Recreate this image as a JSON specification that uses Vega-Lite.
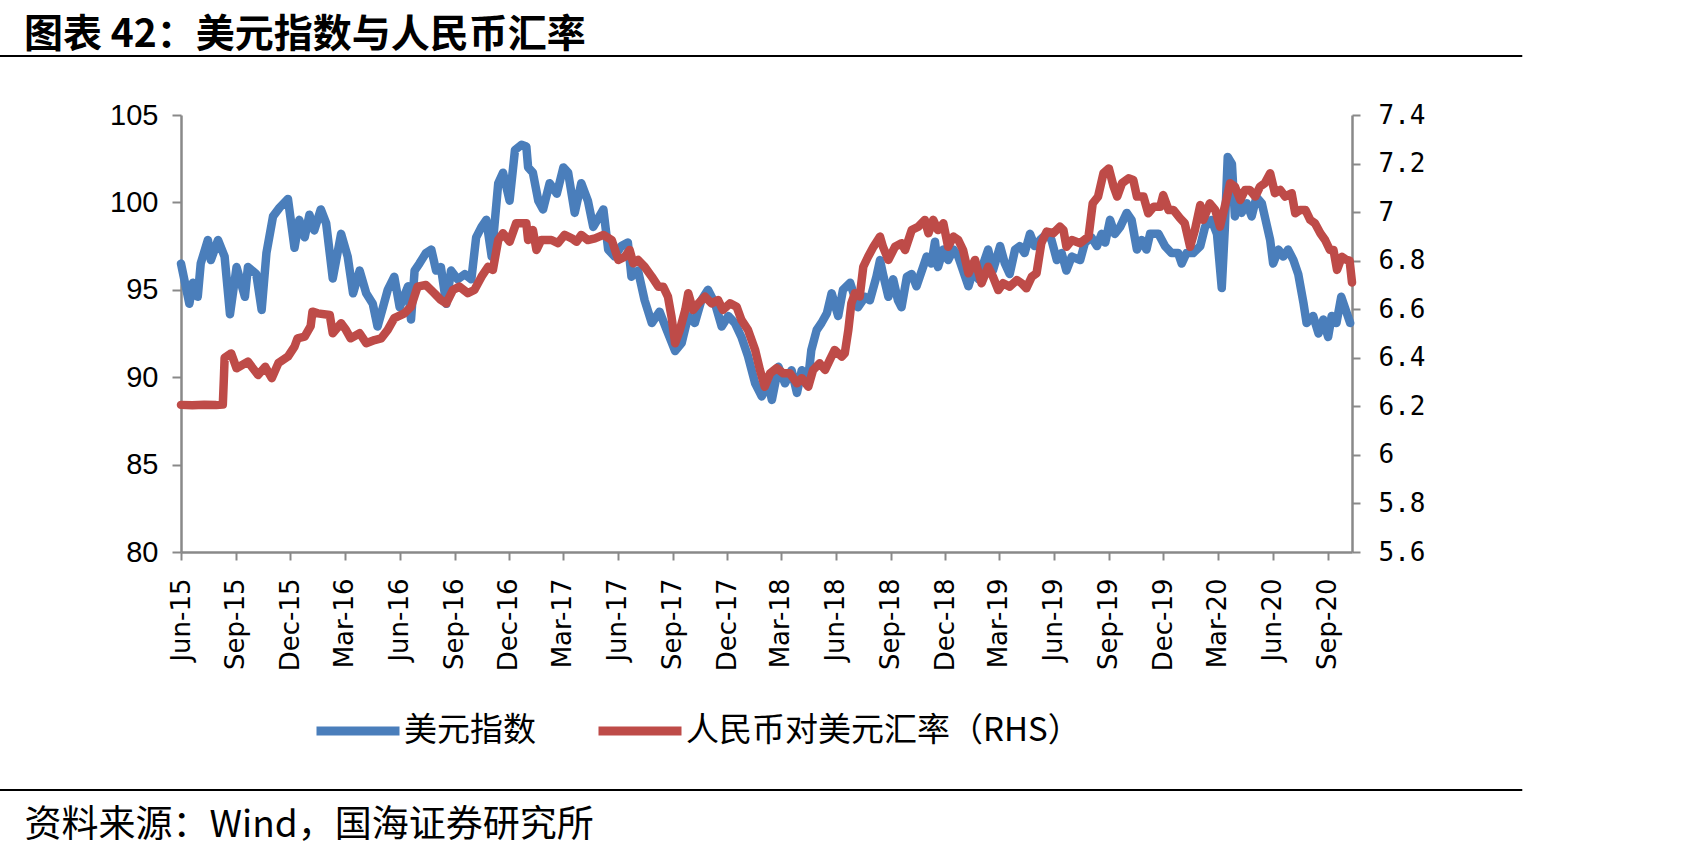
{
  "$schema": "https://vega.github.io/schema/vega-lite/v6.json",
  "width": 1171,
  "height": 437,
  "autosize": {"type": "none"},
  "padding": {"left": 181, "top": 115, "right": 338, "bottom": 304},
  "background": "white",
  "config": {
    "view": {"stroke": null},
    "axis": {"grid": false, "domainColor": "#898989", "tickColor": "#898989", "domainWidth": 2.5, "tickWidth": 2, "labelColor": "#000000"}
  },
  "title": {
    "text": "图表 42：美元指数与人民币汇率",
    "font": "Noto Sans CJK SC",
    "fontSize": 39,
    "fontWeight": "bold",
    "color": "#000000",
    "anchor": "start",
    "frame": "group",
    "dx": -157,
    "offset": 0
  },
  "datasets": {
    "dxy": [
      {"date":"2015-06-01","v":96.5},{"date":"2015-06-15","v":94.2},{"date":"2015-06-21","v":95.4},{"date":"2015-06-29","v":94.6},
      {"date":"2015-07-04","v":96.5},{"date":"2015-07-16","v":97.85},{"date":"2015-07-21","v":96.7},{"date":"2015-08-02","v":97.85},
      {"date":"2015-08-13","v":96.9},{"date":"2015-08-22","v":93.6},{"date":"2015-09-02","v":96.3},{"date":"2015-09-16","v":94.6},
      {"date":"2015-09-21","v":96.3},{"date":"2015-10-05","v":95.9},{"date":"2015-10-14","v":93.85},{"date":"2015-10-22","v":97.1},
      {"date":"2015-11-02","v":99.2},{"date":"2015-11-13","v":99.7},{"date":"2015-11-27","v":100.2},{"date":"2015-12-08","v":97.4},
      {"date":"2015-12-16","v":99.0},{"date":"2015-12-25","v":98.0},{"date":"2016-01-02","v":99.3},{"date":"2016-01-10","v":98.4},
      {"date":"2016-01-21","v":99.6},{"date":"2016-01-30","v":98.8},{"date":"2016-02-10","v":95.65},{"date":"2016-02-24","v":98.2},
      {"date":"2016-03-06","v":96.9},{"date":"2016-03-15","v":94.8},{"date":"2016-03-26","v":96.1},{"date":"2016-04-06","v":94.8},
      {"date":"2016-04-17","v":94.2},{"date":"2016-04-25","v":92.9},{"date":"2016-05-04","v":94.0},{"date":"2016-05-12","v":95.0},
      {"date":"2016-05-23","v":95.75},{"date":"2016-06-01","v":94.0},{"date":"2016-06-15","v":95.2},{"date":"2016-06-20","v":93.3},
      {"date":"2016-06-26","v":96.1},{"date":"2016-07-04","v":96.5},{"date":"2016-07-15","v":97.1},{"date":"2016-07-24","v":97.3},
      {"date":"2016-08-01","v":96.1},{"date":"2016-08-09","v":96.3},{"date":"2016-08-18","v":94.2},{"date":"2016-08-26","v":96.1},
      {"date":"2016-09-06","v":95.6},{"date":"2016-09-18","v":95.9},{"date":"2016-09-29","v":95.6},{"date":"2016-10-07","v":98.0},
      {"date":"2016-10-16","v":98.6},{"date":"2016-10-24","v":99.0},{"date":"2016-11-02","v":96.9},{"date":"2016-11-13","v":101.1},
      {"date":"2016-11-21","v":101.7},{"date":"2016-12-02","v":100.1},{"date":"2016-12-11","v":103.0},{"date":"2016-12-22","v":103.3},
      {"date":"2016-12-30","v":103.2},{"date":"2017-01-02","v":102.0},{"date":"2017-01-10","v":101.7},{"date":"2017-01-19","v":100.1},
      {"date":"2017-01-27","v":99.6},{"date":"2017-02-07","v":101.1},{"date":"2017-02-19","v":100.5},{"date":"2017-03-02","v":102.0},
      {"date":"2017-03-10","v":101.7},{"date":"2017-03-21","v":99.4},{"date":"2017-04-01","v":101.1},{"date":"2017-04-12","v":100.1},
      {"date":"2017-04-21","v":98.6},{"date":"2017-05-08","v":99.6},{"date":"2017-05-16","v":97.3},{"date":"2017-05-27","v":96.9},
      {"date":"2017-06-07","v":97.5},{"date":"2017-06-18","v":97.7},{"date":"2017-06-24","v":95.75},{"date":"2017-07-05","v":96.1},
      {"date":"2017-07-16","v":94.4},{"date":"2017-07-28","v":93.1},{"date":"2017-08-10","v":93.75},{"date":"2017-08-22","v":92.7},
      {"date":"2017-09-05","v":91.5},{"date":"2017-09-16","v":91.95},{"date":"2017-09-27","v":93.5},{"date":"2017-10-08","v":93.1},
      {"date":"2017-10-19","v":94.4},{"date":"2017-10-30","v":95.0},{"date":"2017-11-11","v":94.2},{"date":"2017-11-22","v":92.9},
      {"date":"2017-12-03","v":93.5},{"date":"2017-12-14","v":93.1},{"date":"2017-12-25","v":92.3},{"date":"2018-01-05","v":91.2},
      {"date":"2018-01-17","v":89.65},{"date":"2018-01-28","v":88.9},{"date":"2018-02-08","v":89.65},{"date":"2018-02-14","v":88.7},
      {"date":"2018-02-25","v":90.6},{"date":"2018-03-08","v":89.65},{"date":"2018-03-19","v":90.4},{"date":"2018-03-28","v":89.1},
      {"date":"2018-04-05","v":90.4},{"date":"2018-04-16","v":90.0},{"date":"2018-04-21","v":91.55},{"date":"2018-04-30","v":92.7},
      {"date":"2018-05-08","v":93.1},{"date":"2018-05-17","v":93.65},{"date":"2018-05-25","v":94.8},{"date":"2018-06-05","v":93.5},
      {"date":"2018-06-13","v":95.0},{"date":"2018-06-25","v":95.4},{"date":"2018-07-08","v":94.0},{"date":"2018-07-20","v":94.6},
      {"date":"2018-07-28","v":94.4},{"date":"2018-08-08","v":95.75},{"date":"2018-08-14","v":96.7},{"date":"2018-08-19","v":95.9},
      {"date":"2018-08-28","v":94.6},{"date":"2018-09-05","v":95.6},{"date":"2018-09-13","v":94.4},{"date":"2018-09-19","v":94.0},
      {"date":"2018-09-28","v":95.75},{"date":"2018-10-06","v":95.9},{"date":"2018-10-14","v":95.2},{"date":"2018-10-23","v":96.1},
      {"date":"2018-10-31","v":96.9},{"date":"2018-11-08","v":96.5},{"date":"2018-11-14","v":97.75},{"date":"2018-11-19","v":96.3},
      {"date":"2018-11-28","v":97.3},{"date":"2018-12-06","v":96.7},{"date":"2018-12-15","v":97.3},{"date":"2018-12-23","v":96.9},
      {"date":"2018-12-31","v":96.1},{"date":"2019-01-09","v":95.2},{"date":"2019-01-17","v":96.1},{"date":"2019-01-26","v":95.6},
      {"date":"2019-02-03","v":96.5},{"date":"2019-02-11","v":97.3},{"date":"2019-02-19","v":96.1},{"date":"2019-03-03","v":97.5},
      {"date":"2019-03-11","v":96.5},{"date":"2019-03-19","v":95.9},{"date":"2019-03-28","v":97.3},{"date":"2019-04-05","v":97.5},
      {"date":"2019-04-13","v":97.1},{"date":"2019-04-22","v":98.2},{"date":"2019-04-30","v":97.5},{"date":"2019-05-09","v":97.85},
      {"date":"2019-05-20","v":98.2},{"date":"2019-05-28","v":97.85},{"date":"2019-06-06","v":96.7},{"date":"2019-06-14","v":97.1},
      {"date":"2019-06-22","v":96.1},{"date":"2019-07-01","v":96.9},{"date":"2019-07-15","v":96.7},{"date":"2019-07-23","v":97.7},
      {"date":"2019-08-03","v":98.0},{"date":"2019-08-12","v":97.5},{"date":"2019-08-20","v":98.2},{"date":"2019-08-26","v":97.7},
      {"date":"2019-09-03","v":99.0},{"date":"2019-09-11","v":98.2},{"date":"2019-09-20","v":98.6},{"date":"2019-10-01","v":99.4},
      {"date":"2019-10-09","v":99.0},{"date":"2019-10-18","v":97.3},{"date":"2019-10-26","v":97.85},{"date":"2019-11-03","v":97.3},
      {"date":"2019-11-09","v":98.2},{"date":"2019-11-23","v":98.2},{"date":"2019-12-04","v":97.5},{"date":"2019-12-15","v":97.1},
      {"date":"2019-12-26","v":97.1},{"date":"2020-01-01","v":96.5},{"date":"2020-01-09","v":97.1},{"date":"2020-01-20","v":97.1},
      {"date":"2020-02-01","v":97.5},{"date":"2020-02-09","v":98.6},{"date":"2020-02-20","v":99.0},{"date":"2020-02-29","v":98.2},
      {"date":"2020-03-08","v":95.1},{"date":"2020-03-13","v":98.4},{"date":"2020-03-18","v":102.6},{"date":"2020-03-25","v":102.2},
      {"date":"2020-03-30","v":99.2},{"date":"2020-04-05","v":100.5},{"date":"2020-04-10","v":99.4},{"date":"2020-04-19","v":99.95},
      {"date":"2020-04-27","v":99.2},{"date":"2020-05-05","v":100.3},{"date":"2020-05-14","v":99.95},{"date":"2020-05-19","v":99.2},
      {"date":"2020-05-28","v":97.85},{"date":"2020-06-02","v":96.5},{"date":"2020-06-11","v":97.3},{"date":"2020-06-19","v":96.9},
      {"date":"2020-06-27","v":97.3},{"date":"2020-07-06","v":96.7},{"date":"2020-07-14","v":95.9},{"date":"2020-07-23","v":94.2},
      {"date":"2020-07-28","v":93.1},{"date":"2020-08-08","v":93.5},{"date":"2020-08-17","v":92.5},{"date":"2020-08-25","v":93.3},
      {"date":"2020-09-02","v":92.3},{"date":"2020-09-08","v":93.5},{"date":"2020-09-16","v":93.1},{"date":"2020-09-24","v":94.6},
      {"date":"2020-09-30","v":94.0},{"date":"2020-10-09","v":93.1}
    ],
    "cny": [
      {"date":"2015-06-01","v":6.206},{"date":"2015-06-20","v":6.204},{"date":"2015-07-10","v":6.207},{"date":"2015-07-30","v":6.205},
      {"date":"2015-08-10","v":6.207},{"date":"2015-08-12","v":6.33},{"date":"2015-08-13","v":6.40},{"date":"2015-08-24","v":6.418},
      {"date":"2015-09-02","v":6.357},{"date":"2015-09-21","v":6.384},{"date":"2015-10-08","v":6.329},{"date":"2015-10-20","v":6.363},
      {"date":"2015-10-31","v":6.316},{"date":"2015-11-11","v":6.378},{"date":"2015-11-27","v":6.405},{"date":"2015-12-08","v":6.446},
      {"date":"2015-12-13","v":6.48},{"date":"2015-12-25","v":6.487},{"date":"2016-01-04","v":6.53},{"date":"2016-01-07","v":6.59},
      {"date":"2016-01-16","v":6.583},{"date":"2016-02-05","v":6.576},{"date":"2016-02-10","v":6.501},{"date":"2016-02-24","v":6.542},
      {"date":"2016-03-03","v":6.515},{"date":"2016-03-11","v":6.48},{"date":"2016-03-26","v":6.501},{"date":"2016-04-06","v":6.46},
      {"date":"2016-04-20","v":6.473},{"date":"2016-05-01","v":6.48},{"date":"2016-05-12","v":6.515},{"date":"2016-05-23","v":6.563},
      {"date":"2016-06-09","v":6.583},{"date":"2016-06-20","v":6.61},{"date":"2016-07-01","v":6.693},{"date":"2016-07-15","v":6.70},
      {"date":"2016-07-29","v":6.666},{"date":"2016-08-09","v":6.638},{"date":"2016-08-18","v":6.624},{"date":"2016-08-29","v":6.679},
      {"date":"2016-09-09","v":6.693},{"date":"2016-09-23","v":6.666},{"date":"2016-10-04","v":6.679},{"date":"2016-10-16","v":6.734},
      {"date":"2016-10-27","v":6.775},{"date":"2016-11-04","v":6.762},{"date":"2016-11-13","v":6.885},{"date":"2016-11-21","v":6.913},
      {"date":"2016-12-02","v":6.878},{"date":"2016-12-13","v":6.954},{"date":"2016-12-30","v":6.954},{"date":"2017-01-02","v":6.885},
      {"date":"2017-01-10","v":6.926},{"date":"2017-01-16","v":6.844},{"date":"2017-01-24","v":6.885},{"date":"2017-02-10","v":6.885},
      {"date":"2017-02-21","v":6.872},{"date":"2017-03-04","v":6.906},{"date":"2017-03-16","v":6.892},{"date":"2017-03-24","v":6.878},
      {"date":"2017-04-01","v":6.906},{"date":"2017-04-12","v":6.885},{"date":"2017-04-24","v":6.892},{"date":"2017-05-08","v":6.906},
      {"date":"2017-05-22","v":6.885},{"date":"2017-06-02","v":6.803},{"date":"2017-06-13","v":6.816},{"date":"2017-06-21","v":6.844},
      {"date":"2017-06-27","v":6.789},{"date":"2017-07-05","v":6.803},{"date":"2017-07-16","v":6.775},{"date":"2017-07-28","v":6.734},
      {"date":"2017-08-08","v":6.693},{"date":"2017-08-16","v":6.693},{"date":"2017-08-24","v":6.652},{"date":"2017-08-30","v":6.569},
      {"date":"2017-09-05","v":6.46},{"date":"2017-09-13","v":6.515},{"date":"2017-09-22","v":6.597},{"date":"2017-09-27","v":6.666},
      {"date":"2017-10-05","v":6.597},{"date":"2017-10-14","v":6.624},{"date":"2017-10-25","v":6.652},{"date":"2017-11-05","v":6.624},
      {"date":"2017-11-16","v":6.638},{"date":"2017-11-24","v":6.597},{"date":"2017-12-06","v":6.624},{"date":"2017-12-17","v":6.61},
      {"date":"2017-12-25","v":6.556},{"date":"2018-01-05","v":6.515},{"date":"2018-01-17","v":6.432},{"date":"2018-01-25","v":6.35},
      {"date":"2018-02-02","v":6.281},{"date":"2018-02-11","v":6.336},{"date":"2018-02-22","v":6.357},{"date":"2018-03-05","v":6.336},
      {"date":"2018-03-16","v":6.336},{"date":"2018-03-28","v":6.295},{"date":"2018-04-05","v":6.316},{"date":"2018-04-16","v":6.281},
      {"date":"2018-04-24","v":6.35},{"date":"2018-05-05","v":6.377},{"date":"2018-05-14","v":6.35},{"date":"2018-05-22","v":6.391},
      {"date":"2018-05-30","v":6.432},{"date":"2018-06-11","v":6.405},{"date":"2018-06-16","v":6.418},{"date":"2018-06-22","v":6.515},
      {"date":"2018-06-27","v":6.624},{"date":"2018-07-03","v":6.666},{"date":"2018-07-11","v":6.652},{"date":"2018-07-17","v":6.775},
      {"date":"2018-07-25","v":6.816},{"date":"2018-08-03","v":6.857},{"date":"2018-08-14","v":6.899},{"date":"2018-08-19","v":6.857},
      {"date":"2018-08-28","v":6.803},{"date":"2018-09-08","v":6.857},{"date":"2018-09-19","v":6.872},{"date":"2018-09-25","v":6.844},
      {"date":"2018-10-06","v":6.926},{"date":"2018-10-17","v":6.94},{"date":"2018-10-28","v":6.968},{"date":"2018-11-03","v":6.913},
      {"date":"2018-11-11","v":6.968},{"date":"2018-11-19","v":6.926},{"date":"2018-11-28","v":6.954},{"date":"2018-12-06","v":6.857},
      {"date":"2018-12-15","v":6.899},{"date":"2018-12-23","v":6.885},{"date":"2018-12-31","v":6.844},{"date":"2019-01-09","v":6.748},
      {"date":"2019-01-20","v":6.803},{"date":"2019-01-31","v":6.707},{"date":"2019-02-11","v":6.775},{"date":"2019-02-19","v":6.734},
      {"date":"2019-02-28","v":6.679},{"date":"2019-03-08","v":6.707},{"date":"2019-03-19","v":6.693},{"date":"2019-03-31","v":6.72},
      {"date":"2019-04-08","v":6.707},{"date":"2019-04-16","v":6.686},{"date":"2019-04-25","v":6.734},{"date":"2019-05-03","v":6.748},
      {"date":"2019-05-11","v":6.872},{"date":"2019-05-20","v":6.92},{"date":"2019-05-31","v":6.913},{"date":"2019-06-11","v":6.94},
      {"date":"2019-06-17","v":6.926},{"date":"2019-06-22","v":6.857},{"date":"2019-07-01","v":6.885},{"date":"2019-07-15","v":6.872},
      {"date":"2019-07-29","v":6.899},{"date":"2019-08-05","v":7.036},{"date":"2019-08-14","v":7.064},{"date":"2019-08-23","v":7.16},
      {"date":"2019-09-01","v":7.18},{"date":"2019-09-09","v":7.105},{"date":"2019-09-15","v":7.064},{"date":"2019-09-23","v":7.119},
      {"date":"2019-10-04","v":7.139},{"date":"2019-10-12","v":7.132},{"date":"2019-10-18","v":7.064},{"date":"2019-10-29","v":7.064},
      {"date":"2019-11-06","v":6.995},{"date":"2019-11-15","v":7.022},{"date":"2019-11-26","v":7.022},{"date":"2019-12-01","v":7.07},
      {"date":"2019-12-10","v":7.009},{"date":"2019-12-18","v":7.009},{"date":"2019-12-29","v":6.975},{"date":"2020-01-06","v":6.954},
      {"date":"2020-01-15","v":6.857},{"date":"2020-01-23","v":6.926},{"date":"2020-02-01","v":7.029},{"date":"2020-02-06","v":6.968},
      {"date":"2020-02-17","v":7.036},{"date":"2020-02-26","v":7.009},{"date":"2020-03-05","v":6.94},{"date":"2020-03-13","v":7.022},
      {"date":"2020-03-22","v":7.119},{"date":"2020-03-30","v":7.105},{"date":"2020-04-08","v":7.05},{"date":"2020-04-16","v":7.091},
      {"date":"2020-04-24","v":7.091},{"date":"2020-05-03","v":7.064},{"date":"2020-05-11","v":7.105},{"date":"2020-05-19","v":7.119},
      {"date":"2020-05-28","v":7.16},{"date":"2020-06-05","v":7.078},{"date":"2020-06-14","v":7.091},{"date":"2020-06-22","v":7.064},
      {"date":"2020-07-03","v":7.078},{"date":"2020-07-09","v":6.995},{"date":"2020-07-17","v":7.009},{"date":"2020-07-26","v":7.009},
      {"date":"2020-08-03","v":6.968},{"date":"2020-08-11","v":6.954},{"date":"2020-08-20","v":6.913},{"date":"2020-08-28","v":6.885},
      {"date":"2020-09-05","v":6.844},{"date":"2020-09-11","v":6.844},{"date":"2020-09-17","v":6.762},{"date":"2020-09-25","v":6.816},
      {"date":"2020-10-03","v":6.803},{"date":"2020-10-08","v":6.80},{"date":"2020-10-12","v":6.71}
    ]
  },
  "resolve": {"scale": {"y": "independent"}},
  "layer": [
    {
      "data": {"name": "dxy"},
      "mark": {"type": "line", "strokeWidth": 8.5, "strokeJoin": "round", "strokeCap": "round"},
      "encoding": {
        "x": {
          "field": "date", "type": "temporal",
          "scale": {"type": "utc", "nice": false, "domain": [{"year": 2015, "month": 6, "date": 1, "utc": true}, {"year": 2020, "month": 10, "date": 12, "utc": true}]},
          "axis": {
            "values": [
              {"year": 2015, "month": 6, "date": 1, "utc": true}, {"year": 2015, "month": 9, "date": 1, "utc": true}, {"year": 2015, "month": 12, "date": 1, "utc": true},
              {"year": 2016, "month": 3, "date": 1, "utc": true}, {"year": 2016, "month": 6, "date": 1, "utc": true}, {"year": 2016, "month": 9, "date": 1, "utc": true}, {"year": 2016, "month": 12, "date": 1, "utc": true},
              {"year": 2017, "month": 3, "date": 1, "utc": true}, {"year": 2017, "month": 6, "date": 1, "utc": true}, {"year": 2017, "month": 9, "date": 1, "utc": true}, {"year": 2017, "month": 12, "date": 1, "utc": true},
              {"year": 2018, "month": 3, "date": 1, "utc": true}, {"year": 2018, "month": 6, "date": 1, "utc": true}, {"year": 2018, "month": 9, "date": 1, "utc": true}, {"year": 2018, "month": 12, "date": 1, "utc": true},
              {"year": 2019, "month": 3, "date": 1, "utc": true}, {"year": 2019, "month": 6, "date": 1, "utc": true}, {"year": 2019, "month": 9, "date": 1, "utc": true}, {"year": 2019, "month": 12, "date": 1, "utc": true},
              {"year": 2020, "month": 3, "date": 1, "utc": true}, {"year": 2020, "month": 6, "date": 1, "utc": true}, {"year": 2020, "month": 9, "date": 1, "utc": true}
            ],
            "labelExpr": "utcFormat(datum.value, '%b-%y')",
            "labelAngle": 270,
            "labelFont": "DejaVu Sans",
            "labelFontSize": 26,
            "labelOverlap": false,
            "labelFlush": false,
            "tickSize": 8,
            "labelPadding": 18,
            "title": "资料来源：Wind，国海证券研究所",
            "titleFont": "Noto Sans CJK SC",
            "titleFontSize": 37,
            "titleFontWeight": "normal",
            "titleColor": "#000000",
            "titleAnchor": "start",
            "titleAlign": "left",
            "titleBaseline": "middle",
            "titleX": -157,
            "titleY": 273
          }
        },
        "y": {
          "field": "v", "type": "quantitative",
          "scale": {"domain": [80, 105], "nice": false, "zero": false},
          "axis": {"orient": "left", "values": [80, 85, 90, 95, 100, 105], "title": null, "labelFont": "Liberation Sans", "labelFontSize": 29, "tickSize": 9, "labelPadding": 14}
        },
        "color": {
          "datum": "美元指数", "type": "nominal",
          "scale": {"domain": ["美元指数", "人民币对美元汇率（RHS）"], "range": ["#4a7ebb", "#be4b48"]},
          "legend": {
            "orient": "none", "legendX": 131, "legendY": 570, "direction": "horizontal", "title": null,
            "symbolType": "stroke", "symbolSize": 6889, "symbolStrokeWidth": 9,
            "labelFont": "Noto Sans CJK SC", "labelFontSize": 33, "labelColor": "#000000", "labelOffset": 0,
            "columnPadding": 44, "labelLimit": 0
          }
        }
      }
    },
    {
      "data": {"name": "cny"},
      "mark": {"type": "line", "strokeWidth": 8.5, "strokeJoin": "round", "strokeCap": "round"},
      "encoding": {
        "x": {"field": "date", "type": "temporal"},
        "y": {
          "field": "v", "type": "quantitative",
          "scale": {"domain": [5.6, 7.4], "nice": false, "zero": false},
          "axis": {"orient": "right", "values": [5.6, 5.8, 6, 6.2, 6.4, 6.6, 6.8, 7, 7.2, 7.4], "format": "~g", "title": null, "labelFont": "DejaVu Sans Mono", "labelFontSize": 26, "tickSize": 8, "labelPadding": 18}
        },
        "color": {"datum": "人民币对美元汇率（RHS）", "type": "nominal"}
      }
    },
    {
      "data": {"values": [{}]},
      "mark": {"type": "rule", "color": "#000000", "strokeWidth": 2},
      "encoding": {
        "x": {"datum": {"year": 2014, "month": 8, "date": 2, "utc": true}, "type": "temporal"},
        "x2": {"datum": {"year": 2021, "month": 7, "date": 24, "utc": true}},
        "y": {"datum": 108.375, "type": "quantitative", "scale": {"domain": [80, 105], "nice": false, "zero": false}, "axis": null}
      }
    },
    {
      "data": {"values": [{}]},
      "mark": {"type": "rule", "color": "#000000", "strokeWidth": 2},
      "encoding": {
        "x": {"datum": {"year": 2014, "month": 8, "date": 2, "utc": true}, "type": "temporal"},
        "x2": {"datum": {"year": 2021, "month": 7, "date": 24, "utc": true}},
        "y": {"datum": 66.384, "type": "quantitative", "scale": {"domain": [80, 105], "nice": false, "zero": false}, "axis": null}
      }
    }
  ]
}
